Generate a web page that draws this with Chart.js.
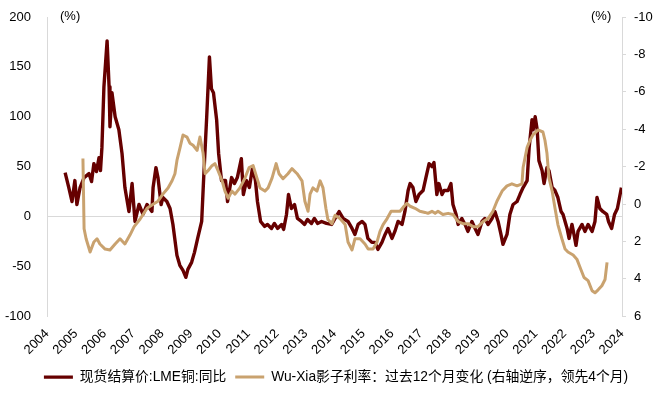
<!DOCTYPE html>
<html>
<head>
<meta charset="utf-8">
<script src="https://cdn.jsdelivr.net/npm/chart.js@4.4.1/dist/chart.umd.min.js"></script>
<style>
    html, body { margin: 0; padding: 0; background: #fff; }
    #wrap { width: 672px; height: 398px; }
</style>
</head>
<body>
<div id="wrap"><canvas id="copperchart" width="672" height="398"></canvas></div>
<script>
// LME copper spot price, yoy (%), left axis
var lmeYears = [2004.63, 2004.75, 2004.87, 2004.97, 2005.04, 2005.15, 2005.29, 2005.46, 2005.55, 2005.63,
    2005.72, 2005.81, 2005.86, 2005.91, 2005.98, 2006.09, 2006.16, 2006.19, 2006.26, 2006.37,
    2006.50, 2006.61, 2006.71, 2006.85, 2006.96, 2007.06, 2007.20, 2007.34, 2007.48, 2007.65,
    2007.69, 2007.79, 2007.86, 2007.97, 2008.03, 2008.17, 2008.28, 2008.38, 2008.52, 2008.62,
    2008.73, 2008.83, 2008.90, 2009.03, 2009.13, 2009.24, 2009.38, 2009.45, 2009.55, 2009.65,
    2009.72, 2009.79, 2009.90, 2009.97, 2010.07, 2010.21, 2010.28, 2010.42, 2010.52, 2010.62,
    2010.76, 2010.83, 2010.94, 2011.04, 2011.15, 2011.25, 2011.32, 2011.43, 2011.57, 2011.67,
    2011.81, 2011.91, 2012.02, 2012.16, 2012.23, 2012.33, 2012.40, 2012.50, 2012.61, 2012.71,
    2012.85, 2012.96, 2013.06, 2013.20, 2013.30, 2013.41, 2013.55, 2013.72, 2013.90, 2014.02,
    2014.16, 2014.30, 2014.47, 2014.61, 2014.71, 2014.82, 2014.96, 2015.06, 2015.16, 2015.30,
    2015.41, 2015.51, 2015.65, 2015.76, 2015.86, 2016.00, 2016.10, 2016.21, 2016.35, 2016.45,
    2016.56, 2016.63, 2016.73, 2016.83, 2016.94, 2017.08, 2017.18, 2017.29, 2017.39, 2017.46,
    2017.56, 2017.63, 2017.74, 2017.81, 2017.95, 2018.05, 2018.12, 2018.23, 2018.30, 2018.43,
    2018.54, 2018.64, 2018.78, 2018.89, 2018.99, 2019.13, 2019.23, 2019.34, 2019.48, 2019.58,
    2019.69, 2019.79, 2019.86, 2020.00, 2020.10, 2020.21, 2020.35, 2020.45, 2020.56, 2020.70,
    2020.77, 2020.87, 2020.91, 2020.98, 2021.05, 2021.11, 2021.22, 2021.29, 2021.39, 2021.46,
    2021.57, 2021.67, 2021.77, 2021.88, 2021.95, 2022.09, 2022.16, 2022.26, 2022.33, 2022.40,
    2022.47, 2022.61, 2022.71, 2022.82, 2022.96, 2023.06, 2023.13, 2023.23, 2023.33, 2023.47,
    2023.53, 2023.64, 2023.74, 2023.84, 2023.98];
var lmeValues = [44, 30, 15, 36, 12, 29, 39, 43, 35, 53,
    45, 59, 46, 69, 130, 176, 130, 90, 124, 100,
    87, 63, 29, 5, 33, -5, 12, 2, 12, 5,
    29, 49, 39, 12, 19, 15, 8, -8, -39, -49,
    -54, -61, -53, -46, -36, -22, -5, 39, 97, 160,
    128, 124, 97, 63, 36, 36, 15, 39, 33, 39,
    58, 22, 36, 29, 49, 36, 15, -5, -10, -8,
    -12, -7, -12, -8, -13, 2, 22, 8, 12, -2,
    -5, -8, -3, -7, -2, -7, -5, -7, -8, -2,
    5, -2, -5, -12, -18, -8, -5, -8, -22, -26,
    -26, -33, -26, -18, -12, -22, -15, -5, -8, 5,
    26, 33, 29, 15, 22, 26, 39, 53, 50, 54,
    22, 33, 22, 26, 26, 33, 12, 2, -8, -2,
    -8, -15, -5, -12, -18, -5, -2, -8, -2, 5,
    -5, -18, -28, -18, 2, 12, 15, 22, 29, 36,
    69, 97, 87, 100, 87, 56, 46, 33, 49, 46,
    29, 26, 19, 5, 2, -12, -22, -8, -18, -29,
    -15, -8, -15, -8, -15, -5, 19, 8, 5, 2,
    -5, -12, 2, 8, 29];

// Wu-Xia shadow rate, 12m change (right axis reversed, led 4 months)
var wxYears = [2005.25, 2005.29, 2005.36, 2005.50, 2005.63, 2005.74, 2005.84, 2006.02, 2006.19, 2006.37,
    2006.54, 2006.71, 2006.89, 2007.03, 2007.24, 2007.48, 2007.69, 2007.86, 2008.03, 2008.21,
    2008.35, 2008.45, 2008.52, 2008.63, 2008.73, 2008.87, 2008.97, 2009.08, 2009.22, 2009.32,
    2009.43, 2009.50, 2009.60, 2009.74, 2009.84, 2009.95, 2010.09, 2010.19, 2010.30, 2010.43,
    2010.54, 2010.71, 2010.89, 2011.03, 2011.17, 2011.30, 2011.41, 2011.58, 2011.69, 2011.83,
    2011.97, 2012.07, 2012.21, 2012.38, 2012.52, 2012.70, 2012.87, 2012.97, 2013.08, 2013.15,
    2013.25, 2013.39, 2013.50, 2013.60, 2013.70, 2013.77, 2013.91, 2014.02, 2014.19, 2014.37,
    2014.47, 2014.61, 2014.71, 2014.89, 2015.06, 2015.17, 2015.34, 2015.48, 2015.58, 2015.69,
    2015.83, 2015.97, 2016.10, 2016.28, 2016.42, 2016.52, 2016.63, 2016.80, 2016.97, 2017.15,
    2017.25, 2017.39, 2017.50, 2017.60, 2017.77, 2017.95, 2018.12, 2018.30, 2018.47, 2018.64,
    2018.82, 2018.99, 2019.17, 2019.34, 2019.51, 2019.65, 2019.83, 2020.00, 2020.17, 2020.35,
    2020.52, 2020.56, 2020.70, 2020.80, 2020.90, 2021.08, 2021.25, 2021.32, 2021.39, 2021.46,
    2021.57, 2021.67, 2021.77, 2021.91, 2022.02, 2022.12, 2022.30, 2022.43, 2022.57, 2022.68,
    2022.82, 2022.96, 2023.06, 2023.17, 2023.30, 2023.41, 2023.48];
var wxValues = [-2.43, 1.32, 1.86, 2.57, 2.03, 1.86, 2.14, 2.41, 2.46, 2.14,
    1.86, 2.14, 1.65, 1.21, 0.8, 0.23, 0.01, -0.15, -0.53, -0.86,
    -1.24, -1.62, -2.33, -3.03, -3.69, -3.58, -3.25, -3.14, -2.87, -3.58,
    -2.71, -1.62, -1.78, -2.05, -2.16, -1.78, -1.24, -0.69, -0.31, -0.69,
    -0.53, -0.86, -1.40, -1.95, -2.05, -1.40, -0.86, -0.69, -0.86, -1.40,
    -2.16, -1.62, -1.35, -1.62, -1.89, -1.62, -1.24, -0.15, 0.39, -0.53,
    -0.86, -0.69, -1.24, -0.86, 0.23, 0.83, 1.05, 0.6, 0.78, 1.10,
    2.03, 2.46, 1.86, 1.86, 2.14, 2.41, 2.41, 2.03, 1.48, 1.10,
    0.78, 0.39, 0.39, 0.39, 0.12, -0.04, 0.12, 0.23, 0.39, 0.45,
    0.50, 0.39, 0.50, 0.39, 0.56, 0.50, 0.56, 0.94, 1.05, 1.05,
    1.21, 1.21, 0.94, 0.78, 0.39, -0.15, -0.69, -0.97, -1.08, -0.97,
    -1.08, -1.95, -3.03, -3.41, -3.69, -3.96, -3.85, -3.41, -2.71, -1.40,
    -0.69, 0.23, 1.10, 1.86, 2.41, 2.57, 2.73, 2.95, 3.50, 3.93,
    4.10, 4.64, 4.75, 4.59, 4.37, 4.04, 3.12];

var xTickMin = 2004;
var xTickMax = 2024;
var leftTicks = [-100, 200, 50];
var rightTicks = [-10, 6, 2];

var FONT = "Arial, 'Liberation Sans', 'Noto Sans CJK SC', sans-serif";
var LME_COLOR = '#660000';
var WX_COLOR = '#c9a26f';
var AXIS_COLOR = '#d9d9d9';

function toPoints(xs, ys) {
    return xs.map(function (x, i) { return { x: x, y: ys[i] }; });
}

// keep axis widths fixed and stop tick padding from pushing the plot down
function fixYAxis(width) {
    return function (s) {
        s.width = width;
        s.paddingTop = 7;
        s.paddingBottom = 7;
    };
}

// "(%)" unit labels above both axes
var unitLabels = {
    id: 'unitLabels',
    afterDraw: function (chart) {
        var c = chart.ctx;
        c.save();
        c.font = '13px ' + FONT;
        c.fillStyle = '#000';
        c.textBaseline = 'middle';
        c.textAlign = 'left';
        c.fillText('(%)', 60, 16);
        c.fillText('(%)', 591, 16);
        c.restore();
    }
};

var ctx = document.getElementById('copperchart').getContext('2d');
var copperchart = new Chart(ctx, {
    type: 'line',
    data: {
        datasets: [
            {
                label: '现货结算价:LME铜:同比',
                data: toPoints(lmeYears, lmeValues),
                borderColor: LME_COLOR,
                backgroundColor: LME_COLOR,
                borderWidth: 3.4,
                pointRadius: 0,
                borderJoinStyle: 'round',
                yAxisID: 'y',
                order: 1
            },
            {
                label: 'Wu-Xia影子利率：过去12个月变化 (右轴逆序，领先4个月)',
                data: toPoints(wxYears, wxValues),
                borderColor: WX_COLOR,
                backgroundColor: WX_COLOR,
                borderWidth: 3,
                pointRadius: 0,
                borderJoinStyle: 'round',
                yAxisID: 'y1',
                order: 0
            }
        ]
    },
    options: {
        responsive: false,
        animation: false,
        layout: { padding: { top: 17, left: 0, right: 0, bottom: 4 } },
        plugins: {
            tooltip: { enabled: false },
            legend: {
                position: 'bottom',
                labels: {
                    usePointStyle: true,
                    pointStyle: 'line',
                    pointStyleWidth: 29,
                    boxHeight: 14,
                    padding: 9,
                    color: '#000',
                    font: { family: FONT, size: 13.8 },
                    sort: function (a, b) { return a.datasetIndex - b.datasetIndex; }
                }
            }
        },
        scales: {
            x: {
                type: 'linear',
                min: xTickMin,
                max: xTickMax,
                grid: { display: false },
                border: { display: false },
                ticks: {
                    stepSize: 1,
                    autoSkip: false,
                    minRotation: 45,
                    maxRotation: 45,
                    padding: 2,
                    color: '#000',
                    font: { family: FONT, size: 13 },
                    callback: function (v) { return String(v); }
                },
                afterFit: function (s) { s.height = 45; }
            },
            y: {
                position: 'left',
                min: leftTicks[0],
                max: leftTicks[1],
                grid: {
                    drawTicks: false,
                    color: function (c) { return c.tick && c.tick.value === 0 ? AXIS_COLOR : 'rgba(0,0,0,0)'; }
                },
                border: { color: AXIS_COLOR },
                ticks: {
                    stepSize: leftTicks[2],
                    padding: 16,
                    color: '#000',
                    font: { family: FONT, size: 13 }
                },
                afterFit: fixYAxis(47)
            },
            y1: {
                position: 'right',
                reverse: true,
                min: rightTicks[0],
                max: rightTicks[1],
                grid: { drawOnChartArea: false, color: AXIS_COLOR, tickLength: 4 },
                border: { color: AXIS_COLOR },
                ticks: {
                    stepSize: rightTicks[2],
                    padding: 8,
                    color: '#000',
                    font: { family: FONT, size: 13 }
                },
                afterFit: fixYAxis(50)
            }
        }
    },
    plugins: [unitLabels]
});
</script>
</body>
</html>
